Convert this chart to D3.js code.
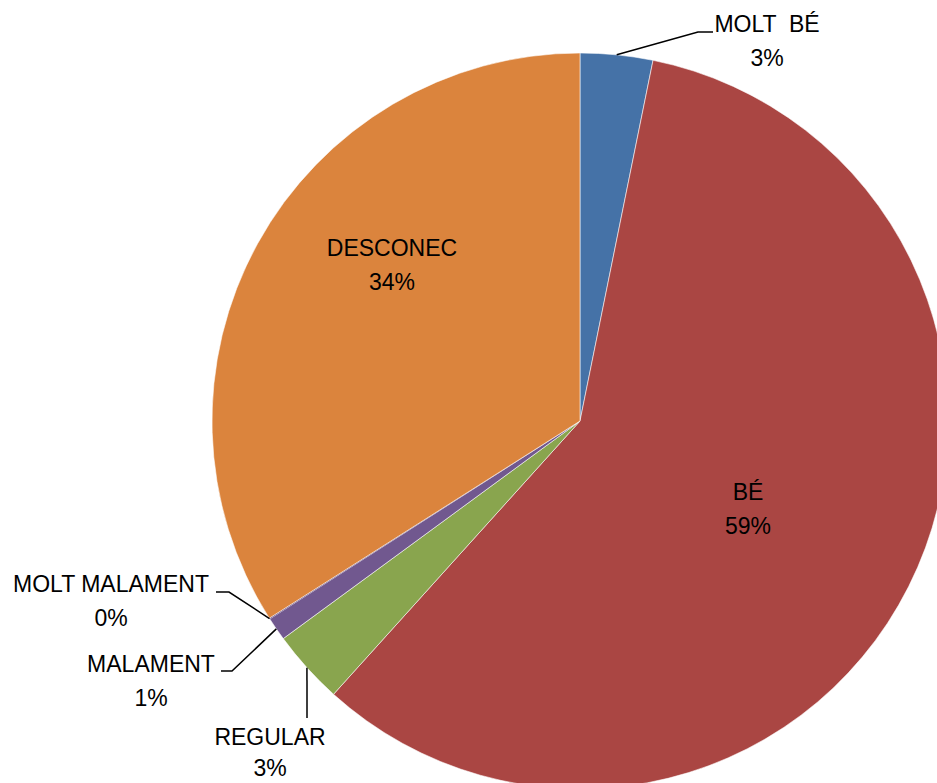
<!DOCTYPE html>
<html><head><meta charset="utf-8">
<script src="https://cdn.jsdelivr.net/npm/d3@7"></script>
<style>html,body{margin:0;padding:0;background:#fff;overflow:hidden}</style>
</head><body>
<svg id="chart" width="937" height="783"></svg>
<script>
const categories = ["MOLT  BÉ", "BÉ", "REGULAR", "MALAMENT", "MOLT MALAMENT", "DESCONEC"];
const values = [3.18, 58.5, 3.25, 1.03, 0.04, 34.0];
const colors = ["#4572A7", "#AA4643", "#89A54E", "#71588F", "#71588F", "#DB843D"];
// label layout: x, baseline of first line, line gap, leader points
const labelPos = [
  {x: 767, y: 32, gap: 34, leader: [[698, 32], [713, 32]]},
  {x: 748, y: 500, gap: 34, leader: null},
  {x: 270, y: 745, gap: 31, leader: [[307, 718]]},
  {x: 151, y: 672, gap: 34, leader: [[232, 671], [221, 671]]},
  {x: 111, y: 592, gap: 34, leader: [[229, 592], [216, 592]]},
  {x: 392, y: 256, gap: 34, leader: null}
];

const cx = 580, cy = 421, R = 368;
const svg = d3.select("#chart");
const g = svg.append("g").attr("transform", `translate(${cx},${cy})`);
const pie = d3.pie().sort(null).value(d => d.v);
const data = categories.map((c, i) => ({c, v: values[i], i}));
const arcs = pie(data);
const arc = d3.arc().innerRadius(0).outerRadius(R);
const total = d3.sum(values);

g.selectAll("path.slice").data(arcs).join("path")
  .attr("class", "slice")
  .attr("d", arc)
  .attr("fill", d => colors[d.data.i])
  .attr("stroke", "#fff")
  .attr("stroke-width", d => (d.endAngle - d.startAngle) < 0.005 ? 0 : 0.8)
  .attr("stroke-opacity", 0.7);

// leader lines
arcs.forEach(a => {
  const lp = labelPos[a.data.i];
  if (!lp.leader) return;
  const mid = (a.startAngle + a.endAngle) / 2;
  const sx = cx + R * Math.sin(mid), sy = cy - R * Math.cos(mid);
  const pts = [[sx, sy], ...lp.leader];
  svg.append("path")
    .attr("d", d3.line()(pts))
    .attr("fill", "none")
    .attr("stroke", "#000")
    .attr("stroke-width", 1.5);
});

// labels
arcs.forEach(a => {
  const lp = labelPos[a.data.i];
  const t = svg.append("text")
    .attr("x", lp.x).attr("y", lp.y)
    .attr("text-anchor", "middle")
    .attr("font-family", "'Liberation Sans', Arial, sans-serif")
    .attr("font-size", 23)
    .attr("fill", "#000");
  t.append("tspan").attr("x", lp.x).attr("xml:space", "preserve").style("white-space", "pre").text(a.data.c);
  t.append("tspan").attr("x", lp.x).attr("dy", lp.gap).text(Math.round(a.data.v / total * 100) + "%");
});
</script>
</body></html>
